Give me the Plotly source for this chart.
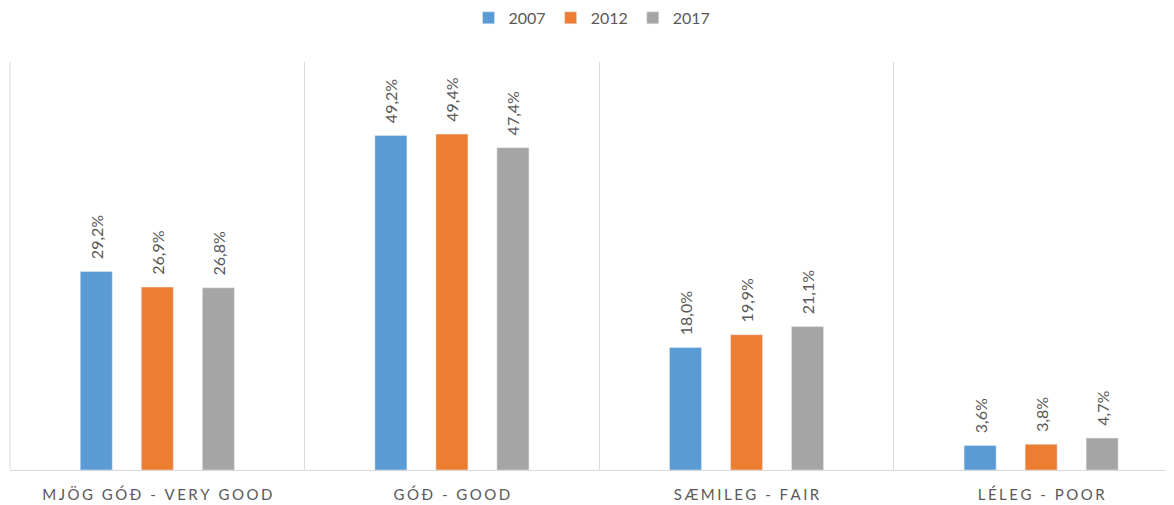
import plotly.graph_objects as go

categories = ["MJÖG GÓÐ - VERY GOOD", "GÓÐ - GOOD", "SÆMILEG - FAIR", "LÉLEG - POOR"]
years = ["2007", "2012", "2017"]
v2007 = [29.2, 49.2, 18.0, 3.6]
v2012 = [26.9, 49.4, 19.9, 3.8]
v2017 = [26.8, 47.4, 21.1, 4.7]
colors = ["#5B9BD5", "#ED7D31", "#A5A5A5"]

def spaced(s):
    return "\u2006".join(list(s))

ticktext = [spaced(c) for c in categories]

fig = go.Figure()
for name, vals, col in zip(years, [v2007, v2012, v2017], colors):
    fig.add_trace(go.Bar(
        name=name, x=categories, y=vals, marker_color=col,
        texttemplate="\u2007%{y:.1f}%", textposition="outside", textangle=-90,
        constraintext="none",
        textfont=dict(color="#595959", size=16, family="Lato"),
        cliponaxis=False,
    ))

fig.update_layout(
    barmode="group", bargap=0.3786, bargroupgap=0.475,
    separators=",.",
    width=1174, height=505,
    margin=dict(l=2, r=8, t=54, b=43, autoexpand=False),
    plot_bgcolor="white", paper_bgcolor="white",
    font=dict(family="Lato", color="#595959"),
    legend=dict(orientation="h", x=0.5, xanchor="center", y=1.108, yanchor="middle",
                yref="paper", font=dict(size=16, color="#595959"),
                itemwidth=30, tracegroupgap=0),
    showlegend=True,
    shapes=[
        dict(type="line", xref="paper", yref="paper", x0=0, x1=0, y0=0, y1=1,
             line=dict(color="#D9D9D9", width=1)),
    ],
)
fig.update_xaxes(tickmode="array", tickvals=categories, ticktext=ticktext,
                 range=[-0.5, 3.451],
                 tickson="boundaries", showgrid=True, gridcolor="#D9D9D9",
                 showline=True, linecolor="#D9D9D9", linewidth=1, ticks="",
                 ticklabelstandoff=11,
                 tickfont=dict(size=15, color="#595959"), mirror=False)
fig.update_yaxes(range=[0, 60], visible=False, showgrid=False)

fig.write_html("out.html")
